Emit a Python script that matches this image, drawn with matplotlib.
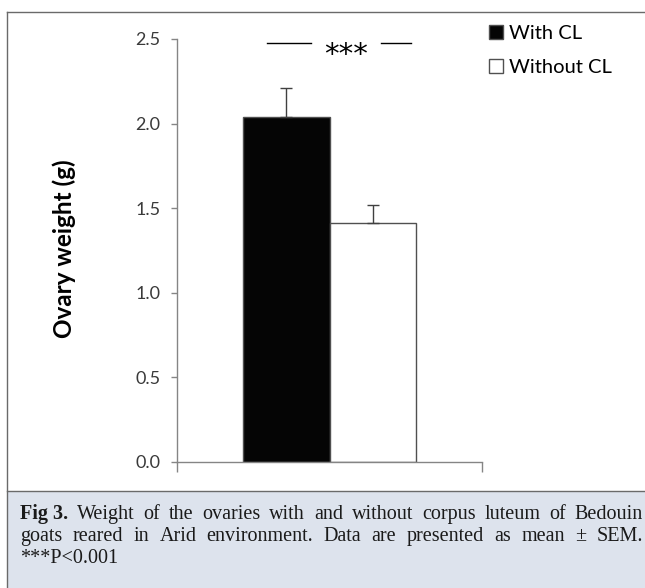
import matplotlib
matplotlib.use("Agg")
import matplotlib.pyplot as plt
from matplotlib.patches import Rectangle
from matplotlib.lines import Line2D

# ---- data ----
groups = ["With CL", "Without CL"]
means = [2.04, 1.41]
sems = [0.17, 0.11]
bar_colors = ["#050505", "white"]
yticks = [0.0, 0.5, 1.0, 1.5, 2.0, 2.5]
signif = "***"
caption_lines = [
    [("Fig 3.", "bold")] + [(w, "normal") for w in
        "Weight of the ovaries with and without corpus luteum of Bedouin".split()],
    [(w, "normal") for w in
        "goats reared in Arid environment. Data are presented as mean \u00b1 SEM.".split()],
    [("***P<0.001", "normal")],
]

W, H = 645, 588
fig = plt.figure(figsize=(W / 100, H / 100), dpi=100)

SANS = ["Lato", "DejaVu Sans"]
SERIF = ["Liberation Serif", "DejaVu Serif"]
AX_COL = "#858585"

# frame + caption box
fig.add_artist(Line2D([7 / W, 1], [1 - 12 / H, 1 - 12 / H], color="#6a6a6a", lw=1.0,
                      transform=fig.transFigure))
fig.add_artist(Rectangle((7 / W, 0), 1, 1 - 490.5 / H, transform=fig.transFigure,
                         facecolor="#dde3ed", edgecolor="none"))
fig.add_artist(Line2D([7 / W, 1], [1 - 490.5 / H, 1 - 490.5 / H], color="#6a6a6a", lw=1.0,
                      transform=fig.transFigure))
fig.add_artist(Line2D([7 / W, 7 / W], [0, 1 - 12 / H], color="#6a6a6a", lw=1.0,
                      transform=fig.transFigure))

# ---- axes ----
x0, x1, ytop, ybot = 177, 482, 39, 462
ax = fig.add_axes([x0 / W, 1 - ybot / H, (x1 - x0) / W, (ybot - ytop) / H])
ax.patch.set_alpha(0)

bw = 0.285
pos = [0.5 - bw / 2, 0.5 + bw / 2]
bars = []
for p, m, s, c, g in zip(pos, means, sems, bar_colors, groups):
    b = ax.bar(p, m, width=bw, color=c, edgecolor="#505050", linewidth=1.0, label=g, zorder=2)
    bars.append(b)
    ax.errorbar(p, m, yerr=[[0], [s]], fmt="none", ecolor="#404040", elinewidth=1.0,
                capsize=4, capthick=1.0, zorder=3)

ax.set_xlim(0, 1)
ax.set_ylim(0, 2.5)
ax.set_yticks(yticks)
ax.set_yticklabels([f"{t:.1f}" for t in yticks])
ax.set_xticks([0, 1])
ax.set_xticklabels([])
for sp in ["top", "right"]:
    ax.spines[sp].set_visible(False)
for sp in ["left", "bottom"]:
    ax.spines[sp].set_color(AX_COL)
    ax.spines[sp].set_linewidth(1.0)
ax.tick_params(axis="y", direction="out", length=4, width=1.0, color=AX_COL,
               labelsize=13, labelcolor="#3a3a3a", pad=8)
ax.tick_params(axis="x", direction="out", length=7, width=1.0, color=AX_COL)
for t in ax.get_yticklabels():
    t.set_family(SANS)

ax.set_ylabel("Ovary weight (g)", fontsize=17.5, fontweight="bold", family=SANS)
ax.yaxis.set_label_coords((76 - x0) / (x1 - x0), 0.505)

# significance marker
ax.plot([0.295, 0.439], [2.475, 2.475], color="black", lw=1.0, clip_on=False)
ax.plot([0.669, 0.767], [2.475, 2.475], color="black", lw=1.0, clip_on=False)
ax.text(0.553, 2.405, signif, ha="center", va="center", fontsize=21,
        family=["DejaVu Sans"], clip_on=False)

# legend
fig.legend(handles=[b[0] for b in bars], labels=groups, loc="upper left",
           bbox_to_anchor=(489 / W, 1 - 25 / H), frameon=False, handlelength=0.7,
           handleheight=0.7, handletextpad=0.3, labelspacing=0.85,
           prop={"family": SANS, "size": 14.5}, borderaxespad=0, borderpad=0)

# ---- caption (justified) ----
fig.canvas.draw()
r = fig.canvas.get_renderer()
cx0, cx1 = 20, 643
baselines = [519, 541, 563]
for li, (words, yb) in enumerate(zip(caption_lines, baselines)):
    arts = [fig.text(0, 1 - yb / H, w, fontweight=wt, family=SERIF, fontsize=14.5,
                     va="baseline", ha="left", color="#1a1a1a") for w, wt in words]
    widths = [a.get_window_extent(r).width for a in arts]
    last = li == len(caption_lines) - 1
    if last or len(arts) == 1:
        gap = 4
    else:
        gap = (cx1 - cx0 - sum(widths)) / (len(arts) - 1)
    x = cx0
    for a, wd in zip(arts, widths):
        a.set_x(x / W)
        x += wd + gap

fig.savefig("out.png", dpi=100)
